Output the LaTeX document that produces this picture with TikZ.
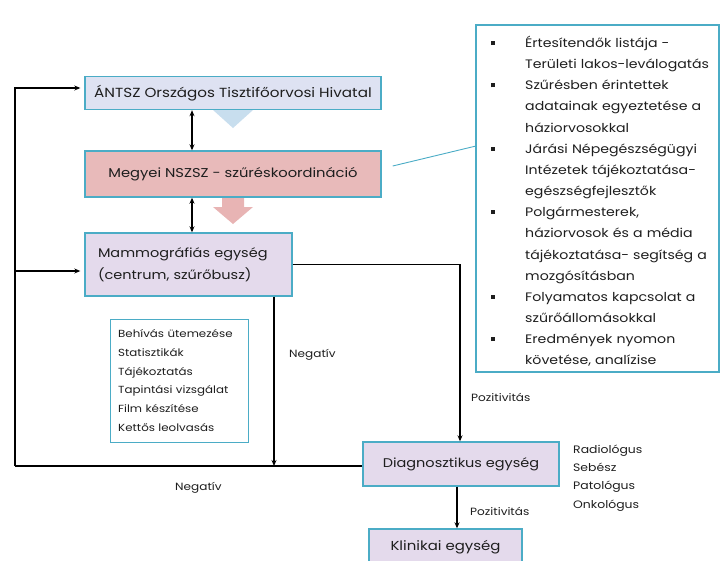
\documentclass[tikz,border=0pt]{standalone}
\usepackage{fontspec}
\setmainfont{Poppins}[FakeStretch=1.15]
\usetikzlibrary{arrows.meta}
\definecolor{bordc}{RGB}{75,172,198}
\definecolor{antfill}{RGB}{222,226,242}
\definecolor{megfill}{RGB}{232,186,186}
\definecolor{lavfill}{RGB}{228,218,236}
\definecolor{chevblue}{RGB}{200,222,238}
\definecolor{chevpink}{RGB}{232,180,180}
\definecolor{txt}{RGB}{30,30,30}
\newcommand{\bul}{\leavevmode\llap{\rule[2.5pt]{4pt}{4pt}\hspace{30pt}}}
\tikzset{
  box/.style={draw=bordc, line width=1.4pt, text=txt, inner sep=0pt, font=\fontsize{13}{16}\selectfont},
  conn/.style={draw=black, line width=1.2pt},
  arr/.style={conn, -{Stealth[length=6pt,width=5pt]}},
  darr/.style={conn, {Stealth[length=6pt,width=5pt]}-{Stealth[length=6pt,width=5pt]}},
  lbl/.style={text=txt, inner sep=0pt, font=\fontsize{10.5}{12}\selectfont},
}
\begin{document}
\begin{tikzpicture}[x=1pt,y=-1pt]
\useasboundingbox (0,0) rectangle (720,560);
% chevrons
\fill[chevblue] (213,110) -- (253,110) -- (233,128) -- cycle;
\fill[chevpink] (222,198) -- (244,198) -- (244,207) -- (253,207) -- (233,224) -- (213,207) -- (222,207) -- cycle;
% boxes
\node[box, fill=antfill, minimum width=296pt, minimum height=33pt, font=\fontsize{13.2}{16}\selectfont] (ant) at (233,93) {ÁNTSZ Országos Tisztifőorvosi Hivatal};
\node[box, fill=megfill, minimum width=296pt, minimum height=46pt, font=\fontsize{12.8}{16}\selectfont] (meg) at (233,174) {Megyei NSZSZ - szűréskoordináció};
\node[box, fill=lavfill, minimum width=207pt, minimum height=63pt, text width=207pt, align=left, inner xsep=0pt, font=\fontsize{12.6}{22}\selectfont] (mam) at (188.5,264.5) {\hspace*{13pt}Mammográfiás egység\\\hspace*{13pt}(centrum, szűrőbusz)};
\node[box, fill=lavfill, minimum width=196pt, minimum height=44pt, font=\fontsize{12.6}{16}\selectfont] (dia) at (461,464) {Diagnosztikus egység};
\node[box, fill=lavfill, minimum width=153pt, minimum height=37pt] (kli) at (445.5,547.5) {Klinikai egység};
% right list box
\node[draw=bordc, line width=1.2pt, minimum width=243pt, minimum height=347pt] (rb) at (597.5,198.5) {};
\node[anchor=base west, text=txt, inner sep=0pt, text width=192pt, align=left, font=\fontsize{12.3}{21.15}\selectfont] (rbt) at (525,47.5) {%
\bul Értesítendők listája -\\
Területi lakos-leválogatás\\
\bul Szűrésben érintettek\\
adatainak egyeztetése a\\
háziorvosokkal\\
\bul Járási Népegészségügyi\\
Intézetek tájékoztatása-\\
egészségfejlesztők\\
\bul Polgármesterek,\\
háziorvosok és a média\\
tájékoztatása- segítség a\\
mozgósításban\\
\bul Folyamatos kapcsolat a\\
szűrőállomásokkal\\
\bul Eredmények nyomon\\
követése, analízise};
% small list box
\node[draw=bordc, line width=0.8pt, minimum width=138pt, minimum height=123pt] (sl) at (179,380.5) {};
\node[anchor=base west, text=txt, inner sep=0pt, text width=128pt, align=left, font=\fontsize{10.3}{18.8}\selectfont] (slt) at (118,337.5) {%
Behívás ütemezése\\Statisztikák\\Tájékoztatás\\Tapintási vizsgálat\\Film készítése\\Kettős leolvasás};
% side list
\node[anchor=base west, text=txt, inner sep=0pt, text width=90pt, align=left, font=\fontsize{10.8}{18.4}\selectfont] (side) at (573,453) {%
Radiológus\\Sebész\\Patológus\\Onkológus};
% coordinates
\coordinate (dx) at (192,0);
\coordinate (lb) at (15,466);
\coordinate (nv) at (274,466);
\coordinate (rbc) at (476,146);
\coordinate (mA) at ([yshift=-6.5pt]mam.west);
\coordinate (aA) at ([yshift=5pt]ant.west);
% double arrows
\draw[darr] (ant.south -| dx) -- (meg.north -| dx);
\draw[darr] (meg.south -| dx) -- (mam.north -| dx);
% connector to right list
\draw[bordc, line width=0.9pt] ([xshift=11pt,yshift=8pt]meg.east) -- (rbc);
% left loop
\draw[conn] (lb) -- (lb -| dia.west);
\draw[arr, shorten >=4pt] (lb) |- (aA);
\draw[arr, shorten >=4pt] (lb |- mA) -- (mA);
% negative
\draw[arr] (mam.south -| nv) -- (nv);
% positive
\draw[arr] (mam.east) -| ([xshift=-1pt]dia.north);
\draw[arr] ([xshift=-4pt]dia.south) -- ([xshift=-4pt]dia.south |- kli.north);
% labels
\node[lbl, anchor=west] (l1) at (289,355) {Negatív};
\node[lbl, anchor=west] (l2) at (471,397) {Pozitivitás};
\node[lbl, anchor=west] (l3) at (175,488) {Negatív};
\node[lbl, anchor=west] (l4) at (470,511) {Pozitivitás};
\end{tikzpicture}
\end{document}
